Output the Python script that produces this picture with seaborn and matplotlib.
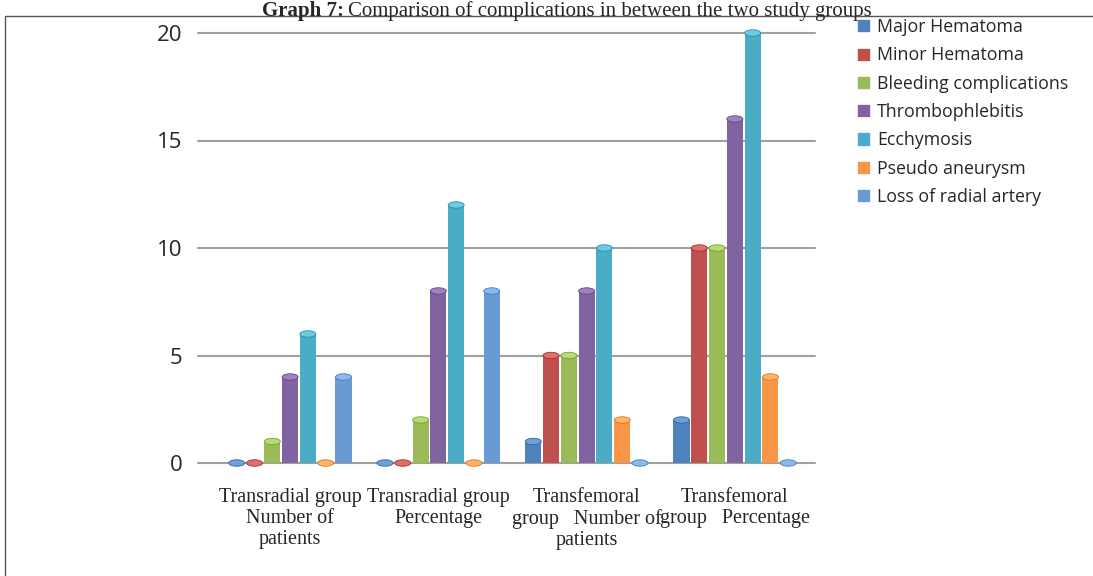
import matplotlib
matplotlib.use("Agg")
import matplotlib.pyplot as plt
from matplotlib.patches import Ellipse, Rectangle
import seaborn as sns
import pandas as pd

# Data
groups = [
    "Transradial group\nNumber of\npatients",
    "Transradial group\nPercentage",
    "Transfemoral\ngroup   Number of\npatients",
    "Transfemoral\ngroup   Percentage",
]
complications = [
    "Major Hematoma",
    "Minor Hematoma",
    "Bleeding complications",
    "Thrombophlebitis",
    "Ecchymosis",
    "Pseudo aneurysm",
    "Loss of radial artery",
]
major_hematoma = [0, 0, 1, 2]
minor_hematoma = [0, 0, 5, 10]
bleeding = [1, 2, 5, 10]
thrombophlebitis = [4, 8, 8, 16]
ecchymosis = [6, 12, 10, 20]
pseudo_aneurysm = [0, 0, 2, 4]
loss_radial = [4, 8, 0, 0]
yticks = [0, 5, 10, 15, 20]

palette = ["#4F81BD", "#C0504D", "#9BBB59", "#8064A2",
           "#4BACC6", "#F79646", "#6A9AD4"]

series = [major_hematoma, minor_hematoma, bleeding, thrombophlebitis,
          ecchymosis, pseudo_aneurysm, loss_radial]
rows = []
for name, vals in zip(complications, series):
    for g, v in zip(groups, vals):
        rows.append({"group": g, "complication": name, "value": v})
df = pd.DataFrame(rows)

sns.set_theme(style="white")
plt.rcParams["font.family"] = ["Open Sans", "DejaVu Sans"]

fig = plt.figure(figsize=(10.93, 5.76), dpi=100)
ax = fig.add_axes([216 / 1093, 113 / 576, 593 / 1093, 430 / 576])

sns.barplot(data=df, x="group", y="value", hue="complication",
            hue_order=complications, order=groups, palette=palette,
            width=0.84, gap=0.1, saturation=1, linewidth=0,
            ax=ax, legend=False, zorder=3)

# cylinder caps on each bar
for patch in list(ax.patches):
    if not isinstance(patch, Rectangle):
        continue
    x, w, h = patch.get_x(), patch.get_width(), patch.get_height()
    fc = patch.get_facecolor()
    light = [min(1, c + 0.12) for c in fc[:3]]
    dark = [max(0, c - 0.12) for c in fc[:3]]
    ax.add_patch(Ellipse((x + w / 2, h), w, 0.3, facecolor=light,
                         edgecolor=dark, linewidth=0.6, zorder=4, clip_on=False))

ax.set_xlim(-0.5, 3.5)
ax.set_ylim(0, 20)
ax.set_yticks(yticks)
ax.set_yticklabels([str(t) for t in yticks], fontsize=16)
ax.tick_params(axis="y", length=0, pad=24)
ax.tick_params(axis="x", length=0, pad=18)
for lbl in ax.get_xticklabels():
    lbl.set_fontfamily("Liberation Serif")
    lbl.set_fontsize(14.5)
    lbl.set_linespacing(1.15)
ax.set_xlabel("")
ax.set_ylabel("")
for s in ax.spines.values():
    s.set_visible(False)

for t in yticks:
    ax.axhline(t, xmin=-0.03, xmax=1.01, color="#a0a0a0", linewidth=1.5,
               clip_on=False, zorder=1)

# Legend
handles = [plt.Rectangle((0, 0), 1, 1, color=c) for c in palette]
fig.legend(handles, complications, loc="upper left",
           bbox_to_anchor=(851 / 1093, 1 - 11 / 576), frameon=False,
           fontsize=12.8, handlelength=0.6, handleheight=0.6,
           handletextpad=0.45, labelspacing=0.58, borderaxespad=0)

# Outer frame (open on the right, running off the page)
fig.add_artist(Rectangle((5 / 1093, -0.01), 1.0, 1 - 16 / 576 + 0.01,
                         transform=fig.transFigure, fill=False,
                         edgecolor="#555555", linewidth=1.0))

# Caption
cap_y = 1 - 1 / 576
t1 = fig.text(262 / 1093, cap_y, "Graph 7:", ha="left", va="top",
              fontsize=15, fontweight="bold", family="Liberation Serif")
fig.canvas.draw()
bb = t1.get_window_extent()
fig.text(bb.x1 / 1093 + 4 / 1093, cap_y,
         "Comparison of complications in between the two study groups",
         ha="left", va="top", fontsize=15, family="Liberation Serif")

fig.savefig("out.png", dpi=100)
